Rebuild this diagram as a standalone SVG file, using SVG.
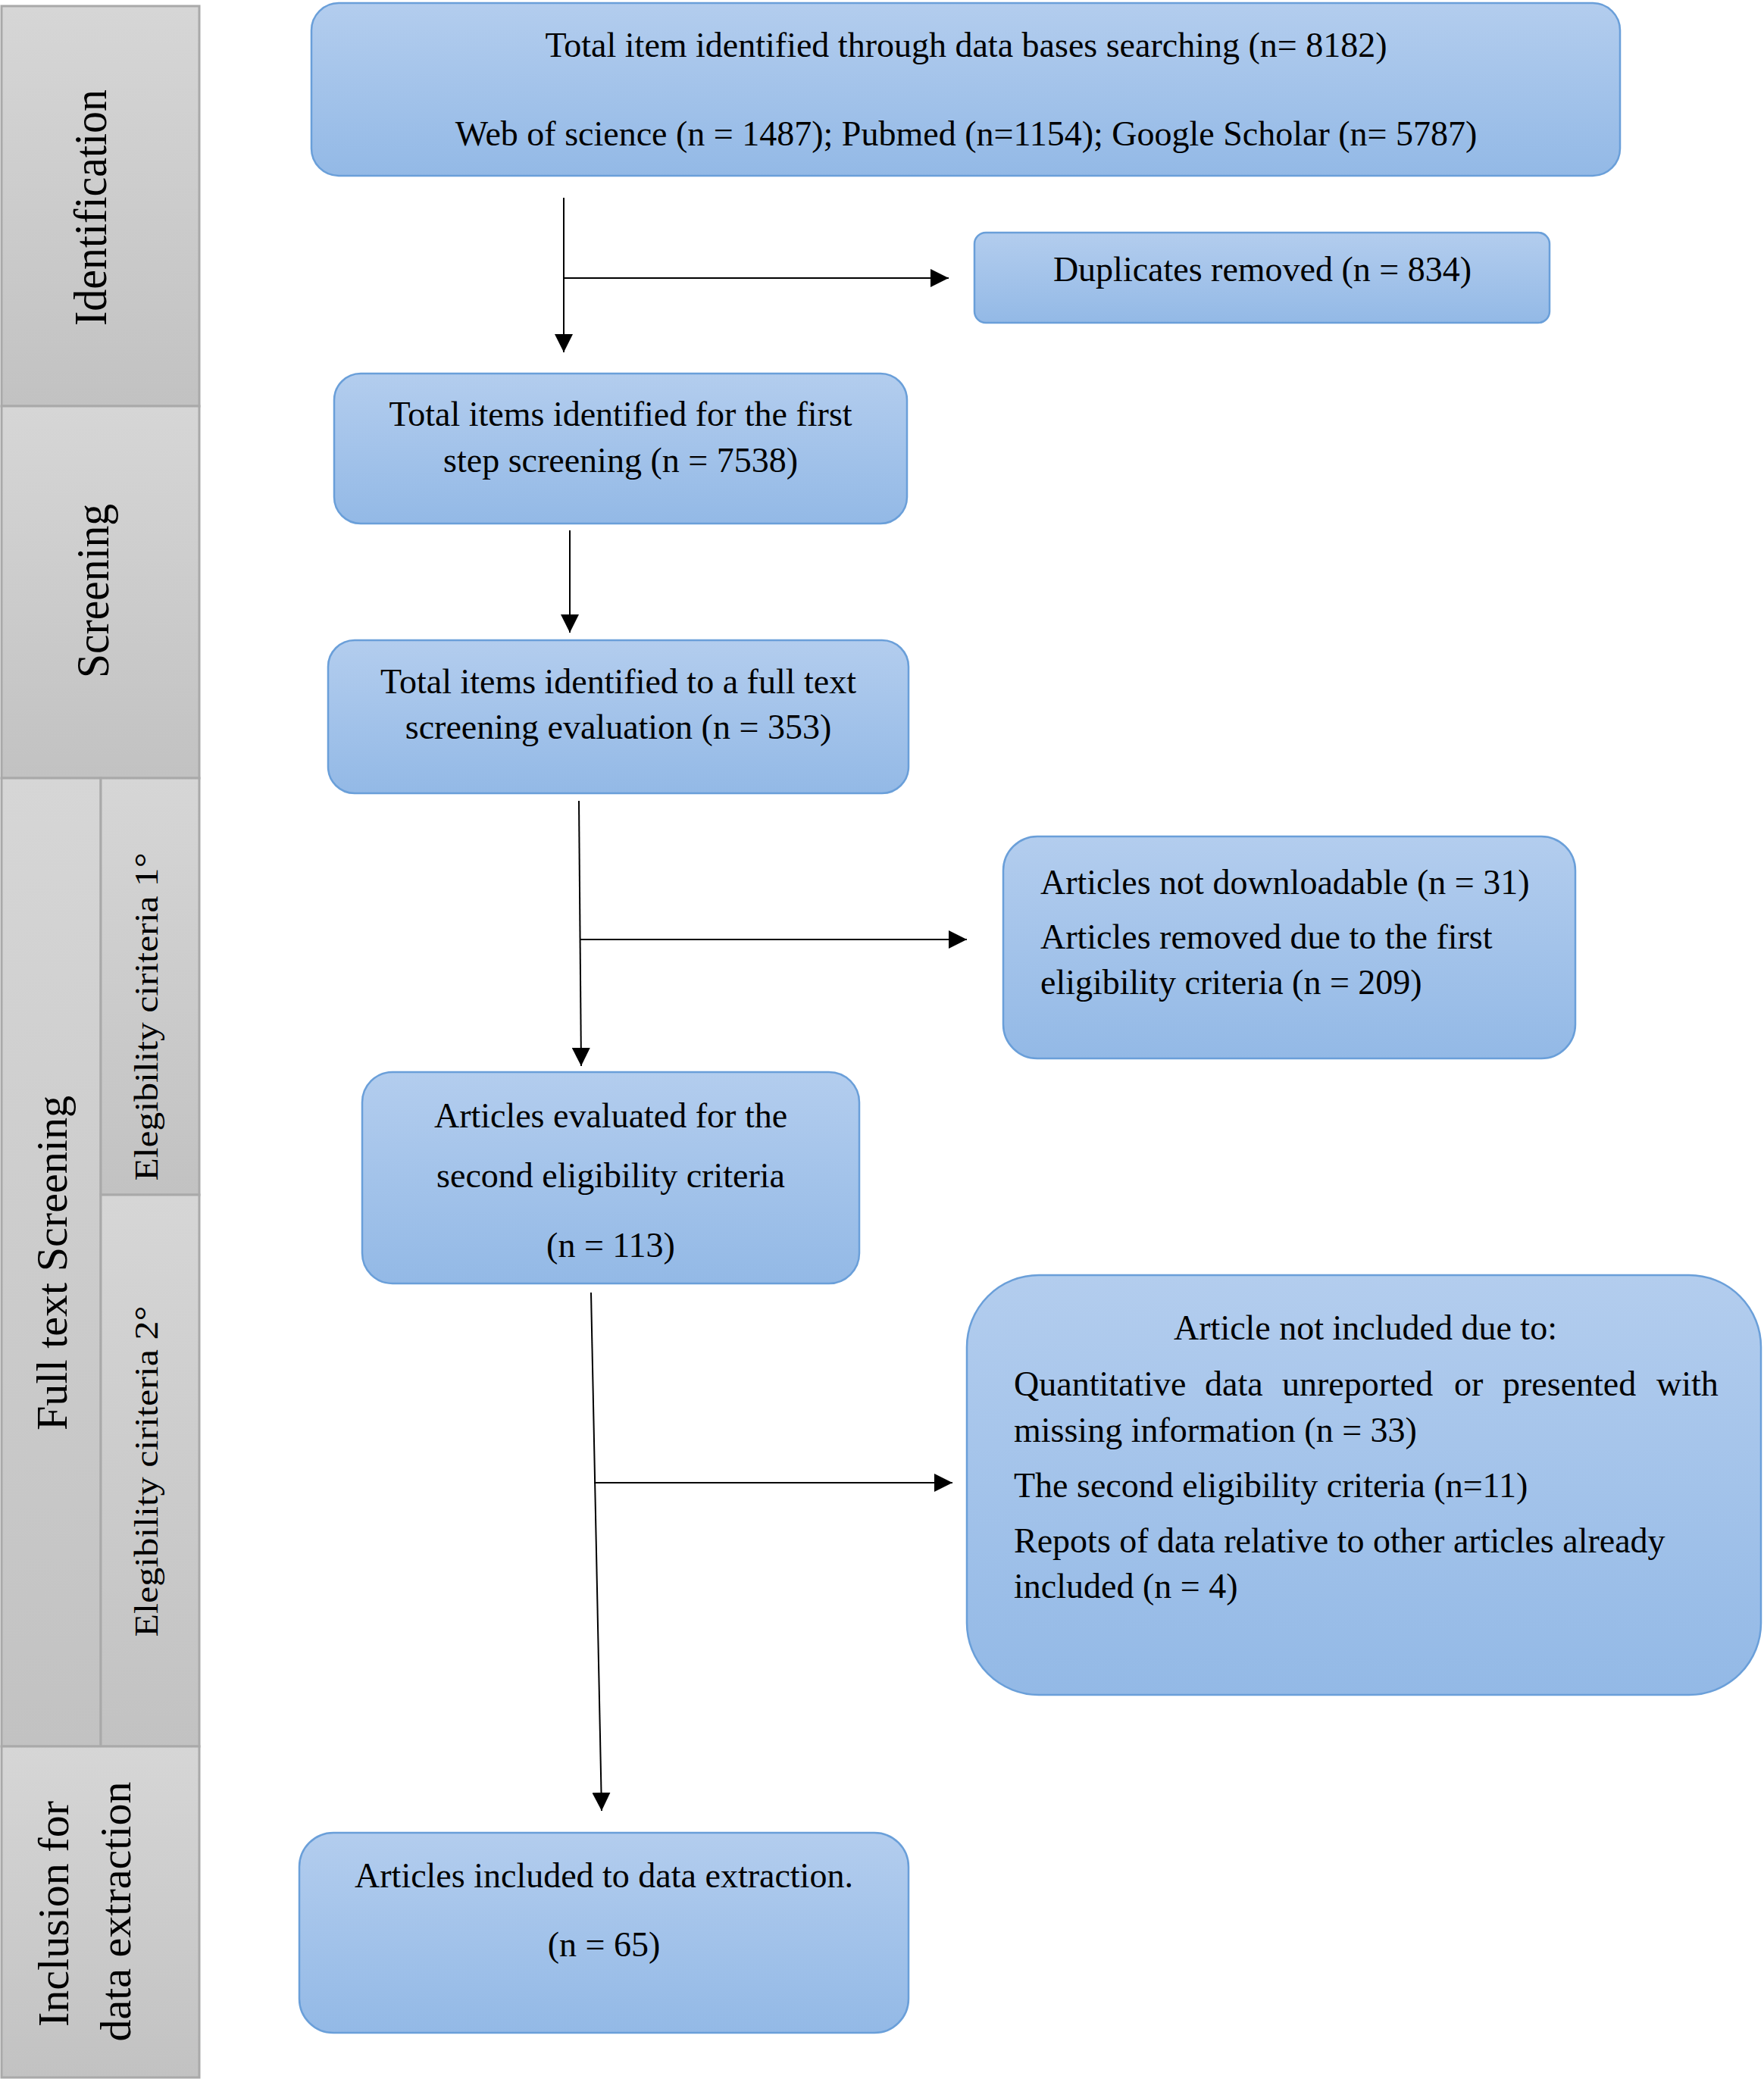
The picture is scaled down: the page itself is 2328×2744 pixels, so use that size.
<svg xmlns="http://www.w3.org/2000/svg" width="2328" height="2744" viewBox="0 0 2328 2744">
<defs>
<linearGradient id="blue" x1="0" y1="0" x2="0" y2="1">
<stop offset="0" stop-color="#b3cdee"/>
<stop offset="1" stop-color="#93b9e6"/>
</linearGradient>
<linearGradient id="gray" x1="0" y1="0" x2="0" y2="1">
<stop offset="0" stop-color="#d6d6d6"/>
<stop offset="1" stop-color="#c2c2c2"/>
</linearGradient>
<marker id="arr" viewBox="0 0 24 24" markerWidth="24" markerHeight="24" refX="24" refY="12" orient="auto" markerUnits="userSpaceOnUse">
<path d="M0,0 L24,12 L0,24 z" fill="#000"/>
</marker>
</defs>
<style>
.box{fill:url(#blue);stroke:#6a9fd9;stroke-width:2.5}
.side{fill:url(#gray);stroke:#a9a9a9;stroke-width:3}
.t{font-family:"Liberation Serif","Times New Roman",serif;font-size:46px;fill:#000}
.c{text-anchor:middle}
.s{font-family:"Liberation Serif","Times New Roman",serif;fill:#000;text-anchor:middle}
.ln{stroke:#000;stroke-width:2;fill:none;marker-end:url(#arr)}
</style>
<rect width="2328" height="2744" fill="#fff"/>

<g id="phase-identification">
<rect class="side" x="2" y="8" width="261" height="528"/>
<text class="s" font-size="62" transform="translate(140,274) rotate(-90)" textLength="312" lengthAdjust="spacingAndGlyphs">Identification</text>
</g>
<g id="phase-screening">
<rect class="side" x="2" y="536" width="261" height="491"/>
<text class="s" font-size="62" transform="translate(143,780) rotate(-90)" textLength="230" lengthAdjust="spacingAndGlyphs">Screening</text>
</g>
<g id="phase-fulltext">
<rect class="side" x="2" y="1027" width="131" height="1278"/>
<text class="s" font-size="58" transform="translate(88,1667) rotate(-90)" textLength="442" lengthAdjust="spacingAndGlyphs">Full text Screening</text>
</g>
<g id="phase-elig1">
<rect class="side" x="133" y="1027" width="130" height="550"/>
<text class="s" font-size="44" transform="translate(208,1342) rotate(-90)" textLength="433" lengthAdjust="spacingAndGlyphs">Elegibility ciriteria 1°</text>
</g>
<g id="phase-elig2">
<rect class="side" x="133" y="1577" width="130" height="728"/>
<text class="s" font-size="44" transform="translate(208,1942) rotate(-90)" textLength="437" lengthAdjust="spacingAndGlyphs">Elegibility ciriteria 2°</text>
</g>
<g id="phase-inclusion">
<rect class="side" x="2" y="2305" width="261" height="437"/>
<text class="s" font-size="58" transform="translate(90,2526) rotate(-90)">Inclusion for</text>
<text class="s" font-size="58" transform="translate(172,2523) rotate(-90)">data extraction</text>
</g>

<g id="connectors">
<line class="ln" x1="744" y1="261" x2="744" y2="465"/>
<line class="ln" x1="744" y1="367" x2="1252" y2="367"/>
<line class="ln" x1="752" y1="700" x2="752" y2="835"/>
<line class="ln" x1="764" y1="1057" x2="767" y2="1407"/>
<line class="ln" x1="766" y1="1240" x2="1276" y2="1240"/>
<line class="ln" x1="780" y1="1706" x2="794" y2="2390"/>
<line class="ln" x1="784" y1="1957" x2="1257" y2="1957"/>
</g>

<g id="n1">
<rect class="box" x="411" y="4" width="1727" height="228" rx="36"/>
<text class="t c" x="1275" y="75">Total item identified through data bases searching (n= 8182)</text>
<text class="t c" x="1275" y="192">Web of science (n = 1487); Pubmed (n=1154); Google Scholar (n= 5787)</text>
</g>
<g id="n2">
<rect class="box" x="1286" y="307" width="759" height="119" rx="15"/>
<text class="t c" x="1666" y="371">Duplicates removed (n = 834)</text>
</g>
<g id="n3">
<rect class="box" x="441" y="493" width="756" height="198" rx="35"/>
<text class="t c" x="819" y="562">Total items identified for the first</text>
<text class="t c" x="819" y="623">step screening (n = 7538)</text>
</g>
<g id="n4">
<rect class="box" x="433" y="845" width="766" height="202" rx="35"/>
<text class="t c" x="816" y="915">Total items identified to a full text</text>
<text class="t c" x="816" y="975">screening evaluation (n = 353)</text>
</g>
<g id="n5">
<rect class="box" x="1324" y="1104" width="755" height="293" rx="45"/>
<text class="t" x="1373" y="1180">Articles not downloadable (n = 31)</text>
<text class="t" x="1373" y="1252">Articles removed due to the first</text>
<text class="t" x="1373" y="1312">eligibility criteria (n = 209)</text>
</g>
<g id="n6">
<rect class="box" x="478" y="1415" width="656" height="279" rx="40"/>
<text class="t c" x="806" y="1488">Articles evaluated for the</text>
<text class="t c" x="806" y="1567">second eligibility criteria</text>
<text class="t c" x="806" y="1659">(n = 113)</text>
</g>
<g id="n7">
<rect class="box" x="1276" y="1683" width="1048" height="554" rx="95"/>
<text class="t c" x="1802" y="1768">Article not included due to:</text>
<text class="t" y="1842"><tspan x="1338">Quantitative</tspan><tspan x="1590">data</tspan><tspan x="1692">unreported</tspan><tspan x="1919">or</tspan><tspan x="1983">presented</tspan><tspan x="2186">with</tspan></text>
<text class="t" x="1338" y="1903">missing information (n = 33)</text>
<text class="t" x="1338" y="1976">The second eligibility criteria (n=11)</text>
<text class="t" x="1338" y="2049">Repots of data relative to other articles already</text>
<text class="t" x="1338" y="2109">included (n = 4)</text>
</g>
<g id="n8">
<rect class="box" x="395" y="2419" width="804" height="264" rx="45"/>
<text class="t c" x="797" y="2491">Articles included to data extraction.</text>
<text class="t c" x="797" y="2582">(n = 65)</text>
</g>
</svg>
